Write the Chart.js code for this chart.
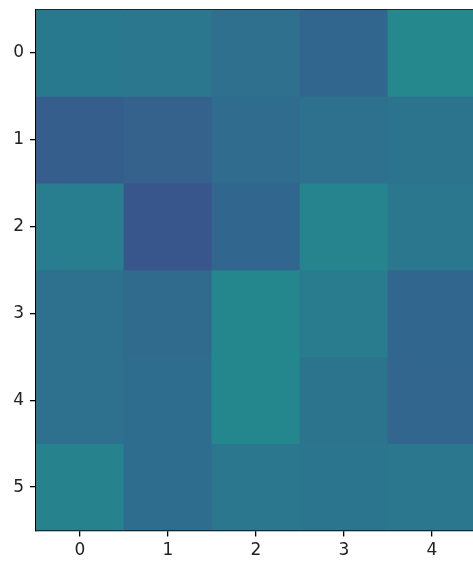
<!DOCTYPE html>
<html><head><meta charset="utf-8">
<script src="https://cdn.jsdelivr.net/npm/chart.js@4/dist/chart.umd.min.js"></script>
<style>html,body{margin:0;padding:0;background:#fff;overflow:hidden;width:473px;height:563px}#wrap{width:480px;height:563px}</style>
</head><body><div id="wrap"><canvas id="c" width="480" height="563"></canvas></div>
<script>
const xLabels = ['0','1','2','3','4'];
const yTickValues = [0,1,2,3,4,5];
// cell values on the viridis scale (0..1), one array per row
const row0 = [0.405, 0.395, 0.365, 0.330, 0.465];
const row1 = [0.295, 0.310, 0.350, 0.370, 0.380];
const row2 = [0.420, 0.265, 0.330, 0.450, 0.395];
const row3 = [0.370, 0.345, 0.460, 0.415, 0.330];
const row4 = [0.370, 0.355, 0.460, 0.385, 0.325];
const row5 = [0.445, 0.355, 0.395, 0.390, 0.395];
const rows = [row0,row1,row2,row3,row4,row5];

const viridisStops = ['#440154','#471365','#482475','#463480','#414487','#3b528b','#355f8d','#2f6c8e','#2a788e','#25848e','#21918c','#1e9c89','#22a884','#2fb47c','#44bf70','#5ec962','#7ad151','#9bd93c','#bddf26','#dfe318','#fde725'];
function hex2rgb(h){return [parseInt(h.slice(1,3),16),parseInt(h.slice(3,5),16),parseInt(h.slice(5,7),16)];}
function viridis(t){
  t=Math.max(0,Math.min(1,t));
  const p=t*(viridisStops.length-1), i=Math.min(Math.floor(p),viridisStops.length-2), f=p-i;
  const a=hex2rgb(viridisStops[i]), b=hex2rgb(viridisStops[i+1]);
  const c=a.map((v,k)=>Math.round(v+(b[k]-v)*f));
  return `rgb(${c[0]},${c[1]},${c[2]})`;
}

const datasets = rows.map((vals,r)=>({
  data: vals.map(()=>[r-0.5, r+0.5]),
  backgroundColor: vals.map(viridis),
  borderWidth: 0,
  grouped: false,
  barPercentage: 1,
  categoryPercentage: 1
}));

const font = {family:'DejaVu Sans', size:17};
function noPad(s){s.paddingTop=0;s.paddingBottom=0;s.paddingLeft=0;s.paddingRight=0;}
new Chart(document.getElementById('c'), {
  type:'bar',
  data:{labels:xLabels, datasets},
  options:{
    responsive:false, animation:false,
    layout:{padding:{top:9.5, right:4, left:0, bottom:0}},
    plugins:{legend:{display:false}, tooltip:{enabled:false}},
    scales:{
      x:{
        type:'category', offset:true,
        grid:{offset:false, drawOnChartArea:false, drawTicks:true, tickLength:6, color:'#000', lineWidth:1.3},
        border:{display:true, color:'#000', width:1.3},
        ticks:{color:'#222', font, padding:4, maxRotation:0},
        afterFit:s=>{s.height=32.5;noPad(s);}
      },
      x2:{
        type:'category', position:'top', labels:xLabels, offset:true,
        grid:{drawOnChartArea:false, drawTicks:false},
        border:{display:true, color:'#000', width:1.3},
        ticks:{display:false},
        afterFit:s=>{s.height=0;noPad(s);}
      },
      y:{
        type:'linear', reverse:true, min:-0.5, max:5.5,
        afterBuildTicks:s=>{s.ticks=yTickValues.map(v=>({value:v}));},
        grid:{drawOnChartArea:false, drawTicks:true, tickLength:6, color:'#000', lineWidth:1.3},
        border:{display:true, color:'#000', width:1.3},
        ticks:{color:'#222', font, padding:6},
        afterFit:s=>{s.width=36;noPad(s);}
      }
    }
  }
});
</script></body></html>
